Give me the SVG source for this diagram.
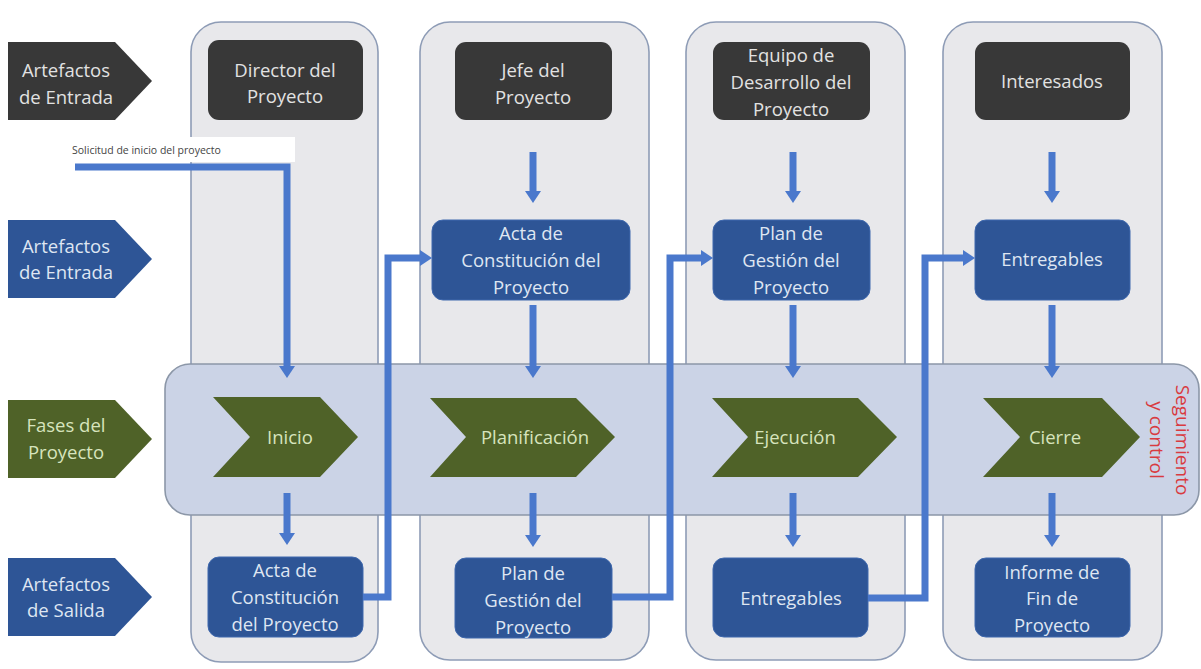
<svg xmlns="http://www.w3.org/2000/svg" width="1201" height="669" viewBox="0 0 1201 669">
<defs>
<style>
.col{fill:#e8e8eb;stroke:#8e9cb6;stroke-width:1.6}
.band{fill:#cbd3e6;stroke:#8c97a8;stroke-width:1.6}
.dark{fill:#383838}
.blue{fill:#2e5596;stroke:#3f68ad;stroke-width:1}
.green{fill:#4f6228}
.t{font-family:"Open Sans","Liberation Sans",sans-serif;font-size:18.5px;text-anchor:middle}
.tl{fill:#e2e2e2}
.tb{fill:#dfe6f2}
.tg{fill:#d7e4bd}
.con{fill:none;stroke:#4a78cc;stroke-width:7}
.red{fill:#d93a40;font-family:"Open Sans","Liberation Sans",sans-serif;font-size:19px;text-anchor:middle}
</style>
<marker id="ah" viewBox="0 0 12 16" refX="2" refY="8" markerWidth="12" markerHeight="16" markerUnits="userSpaceOnUse" orient="auto">
<path d="M0,0 L12,8 L0,16 z" fill="#4a78cc"/>
</marker>
</defs>
<rect width="1201" height="669" fill="#ffffff"/>

<g id="columns">
<rect class="col" x="191" y="22" width="187" height="640" rx="30"/>
<rect class="col" x="420" y="22" width="229" height="638" rx="30"/>
<rect class="col" x="686" y="22" width="219" height="638" rx="30"/>
<rect class="col" x="943" y="22" width="219" height="638" rx="30"/>
</g>

<g id="band">
<rect class="band" x="165" y="364" width="1034" height="151" rx="25"/>
</g>

<g id="label-row1">
<polygon class="dark" points="8,42 115,42 152,81 115,120 8,120"/>
<text class="t tl" x="66" y="77">Artefactos</text>
<text class="t tl" x="66" y="104">de Entrada</text>
</g>
<g id="label-row2">
<polygon class="blue" style="stroke:none" points="8,220 115,220 152,259 115,298 8,298"/>
<text class="t tb" x="66" y="253">Artefactos</text>
<text class="t tb" x="66" y="279">de Entrada</text>
</g>
<g id="label-row3">
<polygon class="green" points="8,400 115,400 152,439 115,478 8,478"/>
<text class="t tg" x="66" y="432">Fases del</text>
<text class="t tg" x="66" y="459">Proyecto</text>
</g>
<g id="label-row4">
<polygon class="blue" style="stroke:none" points="8,558 115,558 152,597 115,636 8,636"/>
<text class="t tb" x="66" y="591">Artefactos</text>
<text class="t tb" x="66" y="617">de Salida</text>
</g>

<g id="director">
<rect class="dark" x="208" y="40" width="155" height="80" rx="11"/>
<text class="t tl" x="285" y="77">Director del</text>
<text class="t tl" x="285" y="103">Proyecto</text>
</g>
<g id="jefe">
<rect class="dark" x="455" y="42" width="157" height="78" rx="11"/>
<text class="t tl" x="533" y="77">Jefe del</text>
<text class="t tl" x="533" y="104">Proyecto</text>
</g>
<g id="equipo">
<rect class="dark" x="713" y="42" width="157" height="78" rx="11"/>
<text class="t tl" x="791" y="62">Equipo de</text>
<text class="t tl" x="791" y="89">Desarrollo del</text>
<text class="t tl" x="791" y="116">Proyecto</text>
</g>
<g id="interesados">
<rect class="dark" x="975" y="42" width="155" height="78" rx="11"/>
<text class="t tl" x="1052" y="88">Interesados</text>
</g>

<g id="acta-entrada">
<rect class="blue" x="432" y="220" width="198" height="80" rx="11"/>
<text class="t tb" x="531" y="240">Acta de</text>
<text class="t tb" x="531" y="267">Constitución del</text>
<text class="t tb" x="531" y="294">Proyecto</text>
</g>
<g id="plan-entrada">
<rect class="blue" x="713" y="220" width="157" height="80" rx="11"/>
<text class="t tb" x="791" y="240">Plan de</text>
<text class="t tb" x="791" y="267">Gestión del</text>
<text class="t tb" x="791" y="294">Proyecto</text>
</g>
<g id="entregables-entrada">
<rect class="blue" x="975" y="220" width="155" height="80" rx="11"/>
<text class="t tb" x="1052" y="266">Entregables</text>
</g>

<g id="inicio">
<polygon class="green" points="213,397 320,397 358,437 320,477 213,477 250,437"/>
<text class="t tg" x="290" y="444">Inicio</text>
</g>
<g id="planificacion">
<polygon class="green" points="430,398 576,398 615,437 576,477 430,477 466,437"/>
<text class="t tg" x="535" y="444">Planificación</text>
</g>
<g id="ejecucion">
<polygon class="green" points="712,398 858,398 897,437 858,477 712,477 748,437"/>
<text class="t tg" x="795" y="444">Ejecución</text>
</g>
<g id="cierre">
<polygon class="green" points="983,398 1102,398 1140,437 1102,477 983,477 1020,437"/>
<text class="t tg" x="1055" y="444">Cierre</text>
</g>

<g id="seguimiento">
<text class="red" transform="translate(1183,440) rotate(90)" x="0" y="7">Seguimiento</text>
<text class="red" transform="translate(1157,440) rotate(90)" x="0" y="7">y control</text>
</g>

<g id="acta-salida">
<rect class="blue" x="208" y="557" width="155" height="80" rx="11"/>
<text class="t tb" x="285" y="577">Acta de</text>
<text class="t tb" x="285" y="604">Constitución</text>
<text class="t tb" x="285" y="631">del Proyecto</text>
</g>
<g id="plan-salida">
<rect class="blue" x="455" y="558" width="157" height="80" rx="11"/>
<text class="t tb" x="533" y="580">Plan de</text>
<text class="t tb" x="533" y="607">Gestión del</text>
<text class="t tb" x="533" y="634">Proyecto</text>
</g>
<g id="entregables-salida">
<rect class="blue" x="713" y="558" width="155" height="79" rx="11"/>
<text class="t tb" x="791" y="605">Entregables</text>
</g>
<g id="informe">
<rect class="blue" x="975" y="558" width="155" height="79" rx="11"/>
<text class="t tb" x="1052" y="579">Informe de</text>
<text class="t tb" x="1052" y="605">Fin de</text>
<text class="t tb" x="1052" y="632">Proyecto</text>
</g>

<g id="solicitud-label">
<rect x="65" y="137" width="230" height="25" fill="#ffffff"/>
<text x="72" y="154" fill="#444444" style="font-family:'Open Sans','Liberation Sans',sans-serif;font-size:10.5px">Solicitud de inicio del proyecto</text>
</g>

<g id="connectors">
<path class="con" d="M75,167 H287 V368" marker-end="url(#ah)"/>
<path class="con" d="M363,597 H388 V258 H422" marker-end="url(#ah)"/>
<path class="con" d="M612,597 H670 V258 H703" marker-end="url(#ah)"/>
<path class="con" d="M868,598 H925 V258 H965" marker-end="url(#ah)"/>
<line class="con" x1="533" y1="152" x2="533" y2="193" marker-end="url(#ah)"/>
<line class="con" x1="793" y1="152" x2="793" y2="193" marker-end="url(#ah)"/>
<line class="con" x1="1052" y1="152" x2="1052" y2="193" marker-end="url(#ah)"/>
<line class="con" x1="533" y1="305" x2="533" y2="368" marker-end="url(#ah)"/>
<line class="con" x1="793" y1="305" x2="793" y2="368" marker-end="url(#ah)"/>
<line class="con" x1="1052" y1="305" x2="1052" y2="368" marker-end="url(#ah)"/>
<line class="con" x1="287" y1="493" x2="287" y2="535" marker-end="url(#ah)"/>
<line class="con" x1="533" y1="493" x2="533" y2="537" marker-end="url(#ah)"/>
<line class="con" x1="793" y1="493" x2="793" y2="537" marker-end="url(#ah)"/>
<line class="con" x1="1052" y1="493" x2="1052" y2="537" marker-end="url(#ah)"/>
</g>
</svg>
